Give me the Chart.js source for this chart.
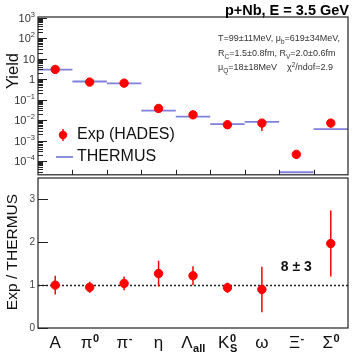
<!DOCTYPE html>
<html>
<head>
<meta charset="utf-8">
<script src="https://cdn.jsdelivr.net/npm/chart.js@4/dist/chart.umd.min.js"></script>
<style>
  body { margin: 0; background: #fff; }
  #wrap { position: relative; width: 354px; height: 357px; }
  canvas { position: absolute; left: 0; }
  #top { top: 0; }
  #bottom { top: 170px; }
</style>
</head>
<body>
<div id="wrap">
  <canvas id="top" width="354" height="180"></canvas>
  <canvas id="bottom" width="354" height="187"></canvas>
</div>
<script>
// particle labels (base letter, superscript, subscript)
var labelBase = ['A', 'π', 'π', 'η', 'Λ', 'K', 'ω', 'Ξ', 'Σ'];
var labelSup  = ['',  '0', '-', '',  '',    '0', '',  '-', '0'];
var labelSub  = ['',  '',  '',  '',  'all', 'S', '',  '',  ''];

// yields
var expYield = [3.0, 0.72, 0.64, 0.037, 0.018, 0.0059, 0.0071, 2.1e-4, 0.0071];
var expErr   = [0.5, 0.09, 0.09, 0.009, 0.003, 0.0007, 0.0042, 0.8e-4, 0.0028];
var thermus  = [2.9, 0.77, 0.62, 0.029, 0.0148, 0.0063, 0.0082, 2.8e-5, 0.0036];

// ratio exp / thermus
var ratio    = [1.0, 0.95, 1.04, 1.27, 1.22, 0.94, 0.9, 8, 1.97];
var ratioErr = [0.22, 0.13, 0.16, 0.3, 0.22, 0.12, 0.53, 3, 0.77];

var yieldTickExp = [-4, -3, -2, -1, 0, 1, 2, 3];
var ratioTicks = [0, 1, 2, 3];

var RED = '#ff0000';
var BLUE = '#8080dd';
var FONT = '"Liberation Sans", Arial, sans-serif';

// draws text made of normal / sup / sub pieces, returns width
function richWidth(ctx, parts, size, small) {
  var w = 0;
  parts.forEach(function (p) {
    ctx.font = (p[2] || '') + (p[1] == 'n' ? size : small) + 'px ' + FONT;
    w += ctx.measureText(p[0]).width;
  });
  return w;
}
function drawRich(ctx, parts, x, y, size, small, supUp, subDown) {
  parts.forEach(function (p) {
    ctx.font = (p[2] || '') + (p[1] == 'n' ? size : small) + 'px ' + FONT;
    var dy = p[1] == 'sup' ? -supUp : (p[1] == 'sub' ? subDown : 0);
    ctx.fillText(p[0], x, y + dy);
    x += ctx.measureText(p[0]).width;
  });
}

function errorBars(chart, vals, errs) {
  var ctx = chart.ctx, xs = chart.scales.x, ys = chart.scales.y;
  ctx.save();
  ctx.strokeStyle = RED;
  ctx.lineWidth = 1.5;
  vals.forEach(function (v, i) {
    if (v > ys.max) return;
    var px = xs.getPixelForValue(i + 0.5);
    var lo = Math.max(v - errs[i], ys.min);
    ctx.beginPath();
    ctx.moveTo(px, ys.getPixelForValue(lo));
    ctx.lineTo(px, ys.getPixelForValue(v + errs[i]));
    ctx.stroke();
  });
  ctx.restore();
}

var topPlugin = {
  id: 'topDecor',
  beforeDatasetsDraw: function (chart) {
    errorBars(chart, expYield, expErr);
  },
  afterDraw: function (chart) {
    var ctx = chart.ctx, a = chart.chartArea;
    var xs = chart.scales.x, ys = chart.scales.y;
    ctx.save();
    // frame
    ctx.strokeStyle = '#222';
    ctx.lineWidth = 1.2;
    ctx.strokeRect(a.left, a.top, a.right - a.left, a.bottom - a.top);
    // log ticks
    ctx.lineWidth = 1;
    for (var e = -5; e <= 3; e++) {
      for (var m = 1; m <= 9; m++) {
        var v = m * Math.pow(10, e);
        if (v < ys.min || v > ys.max) continue;
        var py = Math.round(ys.getPixelForValue(v)) + 0.5;
        ctx.beginPath();
        ctx.moveTo(a.left, py);
        ctx.lineTo(a.left + (m == 1 ? 9 : 5), py);
        ctx.stroke();
      }
    }
    // x ticks at bin edges
    for (var i = 1; i < labelBase.length; i++) {
      var px = Math.round(xs.getPixelForValue(i)) + 0.5;
      ctx.beginPath();
      ctx.moveTo(px, a.bottom);
      ctx.lineTo(px, a.bottom - 5);
      ctx.stroke();
    }
    // y tick labels
    ctx.fillStyle = '#333';
    ctx.textBaseline = 'alphabetic';
    yieldTickExp.forEach(function (e) {
      var py = ys.getPixelForValue(Math.pow(10, e));
      var parts;
      if (e == 0) parts = [['1', 'n']];
      else if (e == 1) parts = [['10', 'n']];
      else parts = [['10', 'n'], [e < 0 ? '\u2212' + (-e) : String(e), 'sup']];
      var w = richWidth(ctx, parts, 11, 7.5);
      drawRich(ctx, parts, a.left - 3 - w, py + 4, 11, 7.5, 5, 0);
    });
    // axis title
    ctx.save();
    ctx.translate(13, 71);
    ctx.rotate(-Math.PI / 2);
    ctx.font = '16.5px ' + FONT;
    ctx.fillStyle = '#111';
    ctx.textAlign = 'center';
    ctx.textBaseline = 'middle';
    ctx.fillText('Yield', 0, 0);
    ctx.restore();
    // title
    ctx.font = 'bold 14.5px ' + FONT;
    ctx.fillStyle = '#000';
    ctx.textAlign = 'right';
    ctx.fillText('p+Nb, E = 3.5 GeV', 349, 15);
    ctx.textAlign = 'left';
    // fit parameters
    ctx.fillStyle = '#333';
    drawRich(ctx, [['T=99\u00b111MeV, \u03bc', 'n'], ['b', 'sub'], ['=619\u00b134MeV,', 'n']], 218, 41, 9, 6.5, 3, 3);
    drawRich(ctx, [['R', 'n'], ['C', 'sub'], ['=1.5\u00b10.8fm, R', 'n'], ['V', 'sub'], ['=2.0\u00b10.6fm', 'n']], 218, 56, 9, 6.5, 3, 3);
    drawRich(ctx, [['\u03bc', 'n'], ['Q', 'sub'], ['=18\u00b118MeV    \u03c7', 'n'], ['2', 'sup'], ['/ndof=2.9', 'n']], 218, 70, 9, 6.5, 3.5, 3);
    // legend
    ctx.strokeStyle = RED;
    ctx.lineWidth = 1.5;
    ctx.beginPath();
    ctx.moveTo(63, 129);
    ctx.lineTo(63, 141);
    ctx.stroke();
    ctx.fillStyle = RED;
    ctx.beginPath();
    ctx.arc(63, 135, 4.2, 0, Math.PI * 2);
    ctx.fill();
    ctx.strokeStyle = BLUE;
    ctx.lineWidth = 1.8;
    ctx.beginPath();
    ctx.moveTo(56, 157);
    ctx.lineTo(73, 157);
    ctx.stroke();
    ctx.fillStyle = '#111';
    ctx.font = '16px ' + FONT;
    ctx.textBaseline = 'middle';
    ctx.fillText('Exp (HADES)', 77, 135);
    ctx.fillText('THERMUS', 77, 157);
    ctx.restore();
  }
};

var bottomPlugin = {
  id: 'bottomDecor',
  beforeDatasetsDraw: function (chart) {
    var ctx = chart.ctx, a = chart.chartArea, ys = chart.scales.y;
    // reference line at 1
    ctx.save();
    ctx.strokeStyle = '#222';
    ctx.lineWidth = 1.5;
    ctx.setLineDash([2, 2]);
    var py = Math.round(ys.getPixelForValue(1)) + 0.5;
    ctx.beginPath();
    ctx.moveTo(a.left, py);
    ctx.lineTo(a.right, py);
    ctx.stroke();
    ctx.restore();
    errorBars(chart, ratio, ratioErr);
  },
  afterDraw: function (chart) {
    var ctx = chart.ctx, a = chart.chartArea;
    var xs = chart.scales.x, ys = chart.scales.y;
    ctx.save();
    ctx.strokeStyle = '#222';
    ctx.lineWidth = 1.2;
    ctx.strokeRect(a.left, a.top, a.right - a.left, a.bottom - a.top);
    ctx.lineWidth = 1;
    ctx.fillStyle = '#444';
    ctx.font = '10px ' + FONT;
    ctx.textAlign = 'right';
    ctx.textBaseline = 'middle';
    ratioTicks.forEach(function (t) {
      var py = Math.round(ys.getPixelForValue(t)) + 0.5;
      ctx.beginPath();
      ctx.moveTo(a.left, py);
      ctx.lineTo(a.left + 10, py);
      ctx.stroke();
      ctx.fillText(String(t), a.left - 3, py);
    });
    // off-scale ratio written as text
    ratio.forEach(function (v, i) {
      if (v <= ys.max) return;
      ctx.font = 'bold 14px ' + FONT;
      ctx.fillStyle = '#111';
      ctx.textAlign = 'center';
      ctx.fillText(v + ' \u00b1 ' + ratioErr[i], xs.getPixelForValue(i + 0.5), ys.getPixelForValue(1.43));
    });
    // axis title
    ctx.save();
    ctx.translate(13, 82);
    ctx.rotate(-Math.PI / 2);
    ctx.font = '15.5px ' + FONT;
    ctx.fillStyle = '#111';
    ctx.textAlign = 'center';
    ctx.fillText('Exp / THERMUS', 0, 0);
    ctx.restore();
    // category labels
    ctx.fillStyle = '#111';
    ctx.textAlign = 'left';
    ctx.textBaseline = 'alphabetic';
    labelBase.forEach(function (b, i) {
      var parts = [[b, 'n']];
      var tail = [];
      if (labelSup[i]) tail.push([labelSup[i], 'sup', 'bold ']);
      if (labelSub[i]) tail.push([labelSub[i], 'sub', 'bold ']);
      var w = richWidth(ctx, parts, 17, 11);
      var tw = 0;
      tail.forEach(function (t) {
        ctx.font = 'bold 11px ' + FONT;
        tw = Math.max(tw, ctx.measureText(t[0]).width);
      });
      var cx = xs.getPixelForValue(i + 0.5);
      var x0 = cx - (w + tw) / 2;
      drawRich(ctx, parts, x0, 178, 17, 11, 0, 0);
      tail.forEach(function (t) {
        ctx.font = 'bold 11px ' + FONT;
        ctx.fillText(t[0], x0 + w + 0.5, 178 + (t[1] == 'sup' ? -6 : 4));
      });
    });
    ctx.restore();
  }
};

function thermusSegments() {
  var pts = [];
  thermus.forEach(function (v, i) {
    pts.push({ x: i, y: v }, { x: i + 1, y: v }, { x: i + 1, y: null });
  });
  return pts;
}

new Chart(document.getElementById('top'), {
  type: 'scatter',
  data: {
    datasets: [{
      label: 'Exp (HADES)',
      data: expYield.map(function (v, i) { return { x: i + 0.5, y: v }; }),
      backgroundColor: RED,
      borderColor: RED,
      pointRadius: 4.2,
      order: 0
    }, {
      label: 'THERMUS',
      data: thermusSegments(),
      showLine: true,
      spanGaps: false,
      borderColor: BLUE,
      borderWidth: 1.8,
      pointRadius: 0,
      order: 1
    }]
  },
  options: {
    responsive: false,
    animation: false,
    events: [],
    layout: { padding: { left: 38, right: 6, top: 17, bottom: 2 } },
    plugins: { legend: { display: false }, tooltip: { enabled: false } },
    scales: {
      x: { type: 'linear', min: 0, max: labelBase.length, display: false },
      y: { type: 'logarithmic', min: 2.1e-5, max: 1.1e3, display: false }
    }
  },
  plugins: [topPlugin]
});

new Chart(document.getElementById('bottom'), {
  type: 'scatter',
  data: {
    datasets: [{
      label: 'Exp / THERMUS',
      data: ratio.map(function (v, i) { return { x: i + 0.5, y: v <= 3.5 ? v : null }; }),
      backgroundColor: RED,
      borderColor: RED,
      pointRadius: 4.2
    }]
  },
  options: {
    responsive: false,
    animation: false,
    events: [],
    layout: { padding: { left: 38, right: 6, top: 8, bottom: 29 } },
    plugins: { legend: { display: false }, tooltip: { enabled: false } },
    scales: {
      x: { type: 'linear', min: 0, max: labelBase.length, display: false },
      y: { type: 'linear', min: 0, max: 3.5, display: false }
    }
  },
  plugins: [bottomPlugin]
});
</script>
</body>
</html>
